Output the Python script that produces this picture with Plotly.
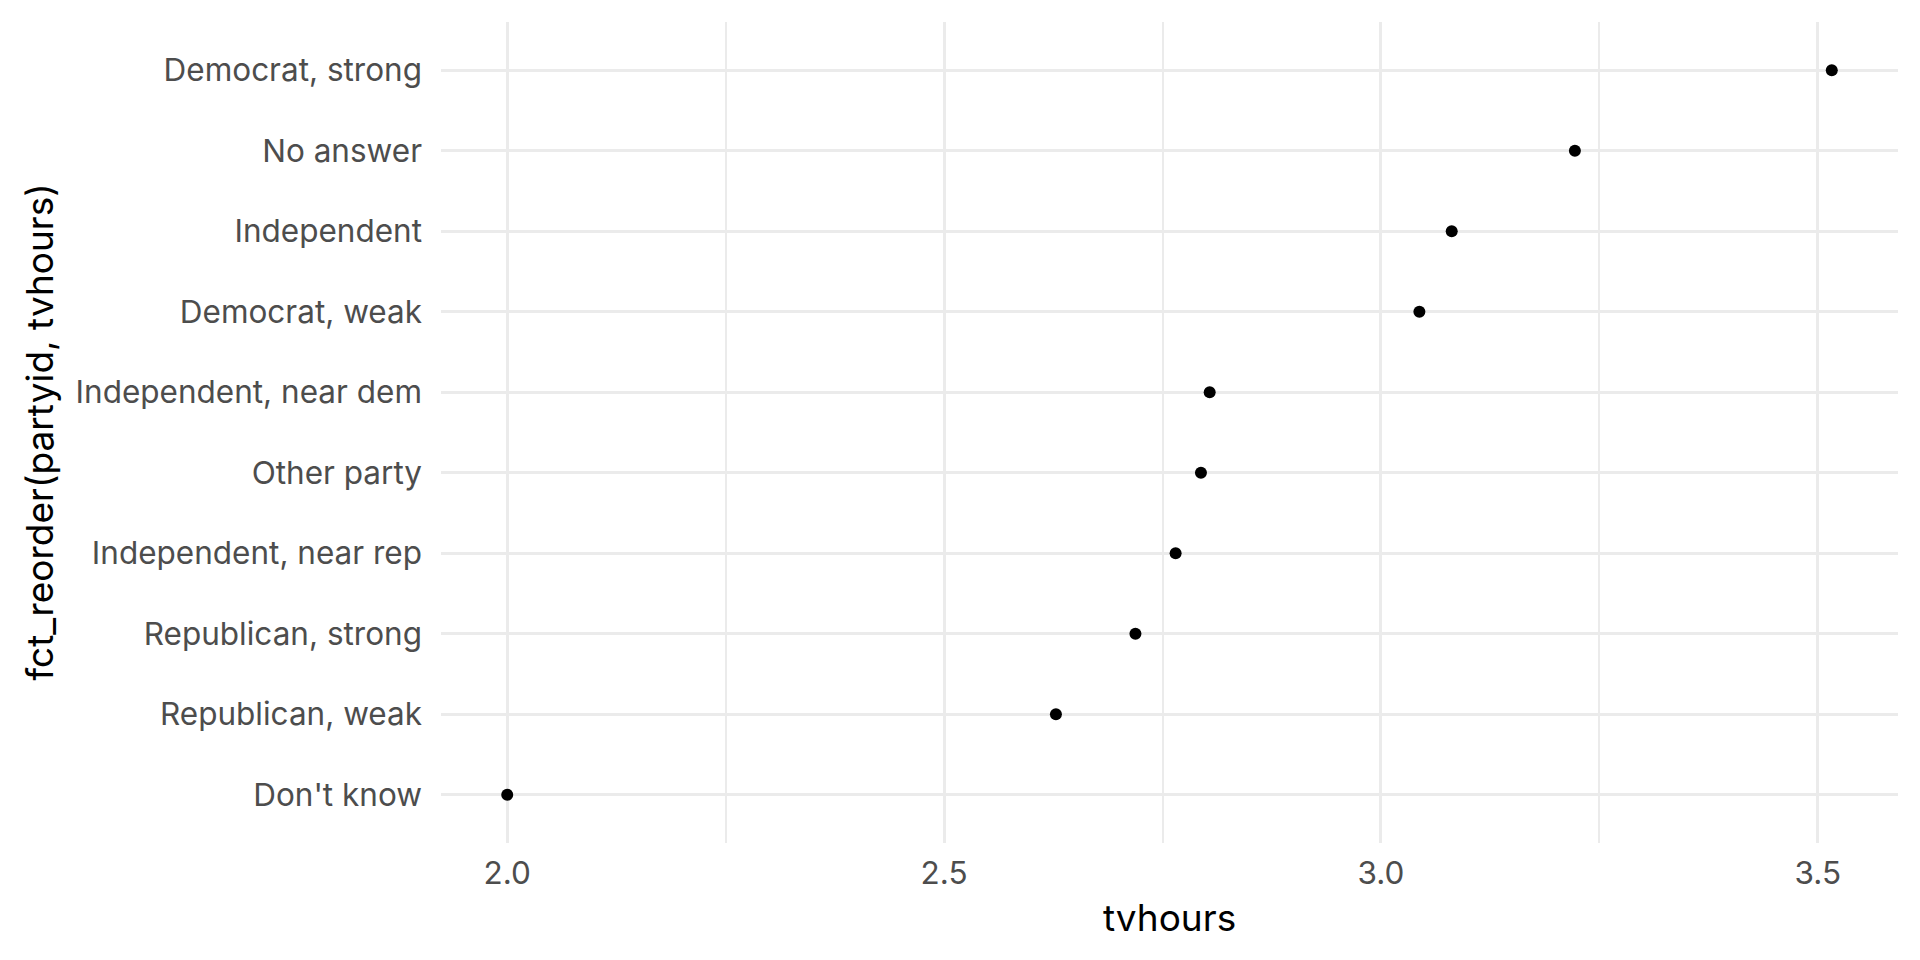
import plotly.graph_objects as go

# Data (ordered bottom to top as displayed)
categories = [
    "Don't know",
    "Republican, weak",
    "Republican, strong",
    "Independent, near rep",
    "Other party",
    "Independent, near dem",
    "Democrat, weak",
    "Independent",
    "No answer",
    "Democrat, strong",
]
tvhours = [2.00, 2.628, 2.719, 2.765, 2.794, 2.804, 3.044, 3.081, 3.222, 3.516]

x_tickvals = [2.0, 2.5, 3.0, 3.5]
x_ticktext = ["2.0", "2.5", "3.0", "3.5"]
x_minor = [2.25, 2.75, 3.25]

font_family = "Inter, 'Noto Sans', sans-serif"
grid_color = "#EBEBEB"

fig = go.Figure()
fig.add_trace(go.Scatter(
    x=tvhours,
    y=categories,
    mode="markers",
    marker=dict(color="black", size=12),
    showlegend=False,
))

xmin, xmax = min(tvhours), max(tvhours)
pad = (xmax - xmin) * 0.05

fig.update_layout(
    width=1920,
    height=960,
    paper_bgcolor="white",
    plot_bgcolor="white",
    margin=dict(l=433, r=30, t=14, b=125, autoexpand=False),
    font=dict(family=font_family, color="black"),
    xaxis=dict(
        range=[xmin - pad, xmax + pad],
        tickvals=x_tickvals,
        ticktext=x_ticktext,
        showgrid=True,
        gridcolor=grid_color,
        gridwidth=3.4,
        zeroline=False,
        showline=False,
        ticks="",
        ticklabelstandoff=8,
        tickfont=dict(size=31.5, color="#4D4D4D", family=font_family),
        minor=dict(tickvals=x_minor, showgrid=True, gridcolor=grid_color, gridwidth=1.7, ticks=""),
        automargin=False,
    ),
    yaxis=dict(
        type="category",
        categoryorder="array",
        categoryarray=categories,
        range=[-0.6, len(categories) - 1 + 0.6],
        showgrid=True,
        gridcolor=grid_color,
        gridwidth=3.4,
        zeroline=False,
        showline=False,
        ticks="",
        ticklabelstandoff=18,
        tickfont=dict(size=31.5, color="#4D4D4D", family=font_family),
        automargin=False,
    ),
    annotations=[
        dict(text="tvhours", xref="paper", yref="paper", x=0.5, y=0,
             xanchor="center", yanchor="middle", yshift=-74, showarrow=False,
             font=dict(size=37, color="black", family=font_family)),
        dict(text="fct_reorder(partyid, tvhours)", xref="paper", yref="paper", x=0, y=0.5,
             xanchor="center", yanchor="middle", xshift=-402, textangle=-90, showarrow=False,
             font=dict(size=37, color="black", family=font_family)),
    ],
)

fig.write_html("out.html")
